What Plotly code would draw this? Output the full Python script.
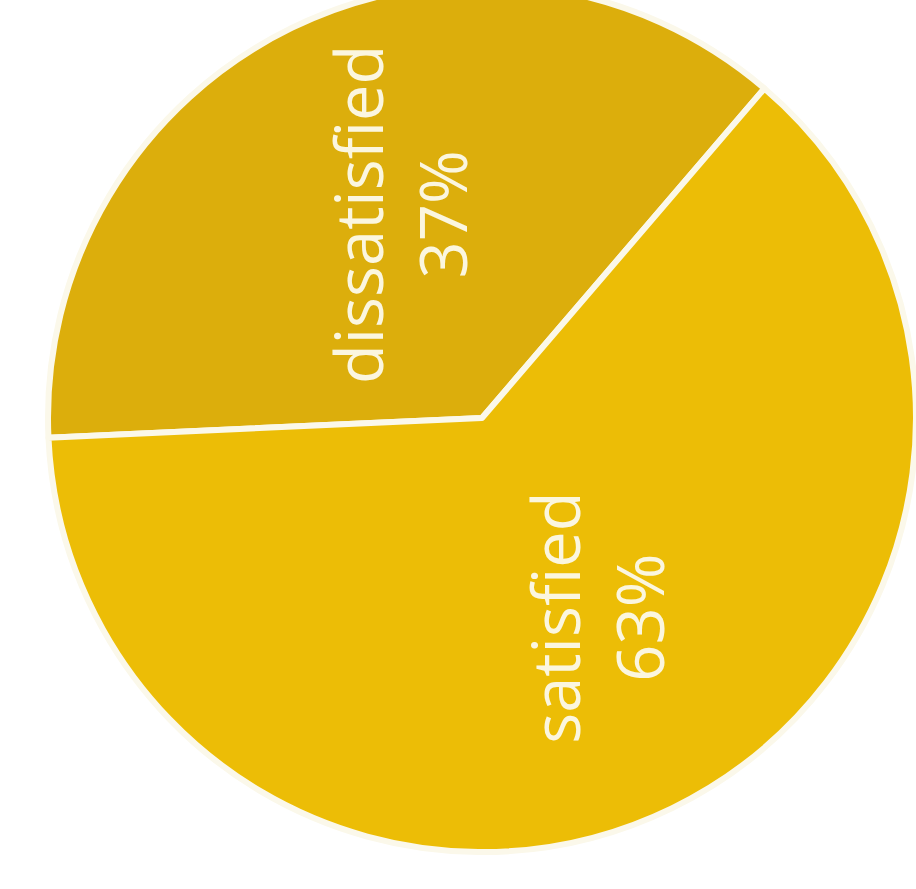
import plotly.graph_objects as go

labels = ["dissatisfied", "satisfied"]
values = [37, 63]
colors = ["#dcae0c", "#ecbd06"]
label_text = ["dissatisfied<br>37%", "satisfied<br>63%"]

W, H = 916, 905
fig = go.Figure()
fig.add_trace(go.Pie(
    labels=labels,
    values=values,
    sort=False,
    direction="counterclockwise",
    rotation=-92.6,
    marker=dict(colors=colors, line=dict(color="#fbf8ea", width=6)),
    textinfo="none",
    hoverinfo="skip",
    showlegend=False,
    domain=dict(x=[48 / W, 1], y=[1 - 868 / H, 1]),
))

ann_pos = [(0.437, 0.745), (0.652, 0.300)]
for txt, (ax, ay) in zip(label_text, ann_pos):
    fig.add_annotation(
        x=ax, y=ay, xref="paper", yref="paper",
        text=txt, showarrow=False, textangle=-90,
        xanchor="center", yanchor="middle",
        font=dict(family="Open Sans", size=65, color="#fbf6df"),
    )

fig.update_layout(
    width=W, height=H,
    margin=dict(l=0, r=0, t=0, b=0),
    paper_bgcolor="white",
    plot_bgcolor="white",
)

fig.write_html(
    "out.html",
    config={"displayModeBar": False},
    post_script="document.body.style.margin='0';document.body.style.overflow='hidden';"
                "var el=document.getElementById('{plot_id}');el.style.marginTop='-16px';",
)
